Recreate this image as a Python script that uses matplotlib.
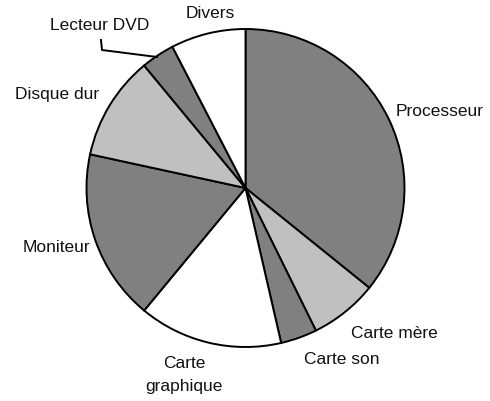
import matplotlib
matplotlib.use("Agg")
import matplotlib.pyplot as plt

# shares of the PC price (%)
labels = ["Processeur", "Carte mère", "Carte son", "Carte\ngraphique",
          "Moniteur", "Disque dur", "Lecteur DVD", "Divers"]
values = [35.8, 6.9, 3.7, 14.6, 17.4, 10.6, 3.4, 7.6]
colors = ["#808080", "#c0c0c0", "#808080", "#ffffff",
          "#808080", "#c0c0c0", "#808080", "#ffffff"]

W, H = 490, 401
cx, cy, r = 245.5, 188, 159


def to_data(px, py):
    # pixel position (from top-left) -> pie data coords
    return (px - cx) / r, (cy - py) / r


fig = plt.figure(figsize=(W / 100, H / 100), dpi=100)
ax = fig.add_axes([(cx - r) / W, (H - cy - r) / H, 2 * r / W, 2 * r / H])
ax.pie(values, colors=colors, startangle=90, counterclock=False, radius=1,
       wedgeprops=dict(edgecolor="black", linewidth=1.4))
ax.set_xlim(-1, 1)
ax.set_ylim(-1, 1)
ax.set_aspect("equal")
ax.axis("off")

# label placement in pixels
label_pos = [(440, 112), (394, 334), (342, 359), (184, 375),
             (56, 247), (57, 95), (100, 25), (210, 14)]
for lab, (px, py) in zip(labels, label_pos):
    x, y = to_data(px, py)
    ax.text(x, y, lab, ha="center", va="center", fontsize=12.5,
            family="Liberation Sans", color="#111111", linespacing=1.75,
            clip_on=False)

# leader line for Lecteur DVD
pts = [to_data(101, 40), to_data(102, 50), to_data(157, 57)]
ax.plot([p[0] for p in pts], [p[1] for p in pts], color="black",
        linewidth=1.4, clip_on=False)

fig.savefig("out.png", dpi=100)
